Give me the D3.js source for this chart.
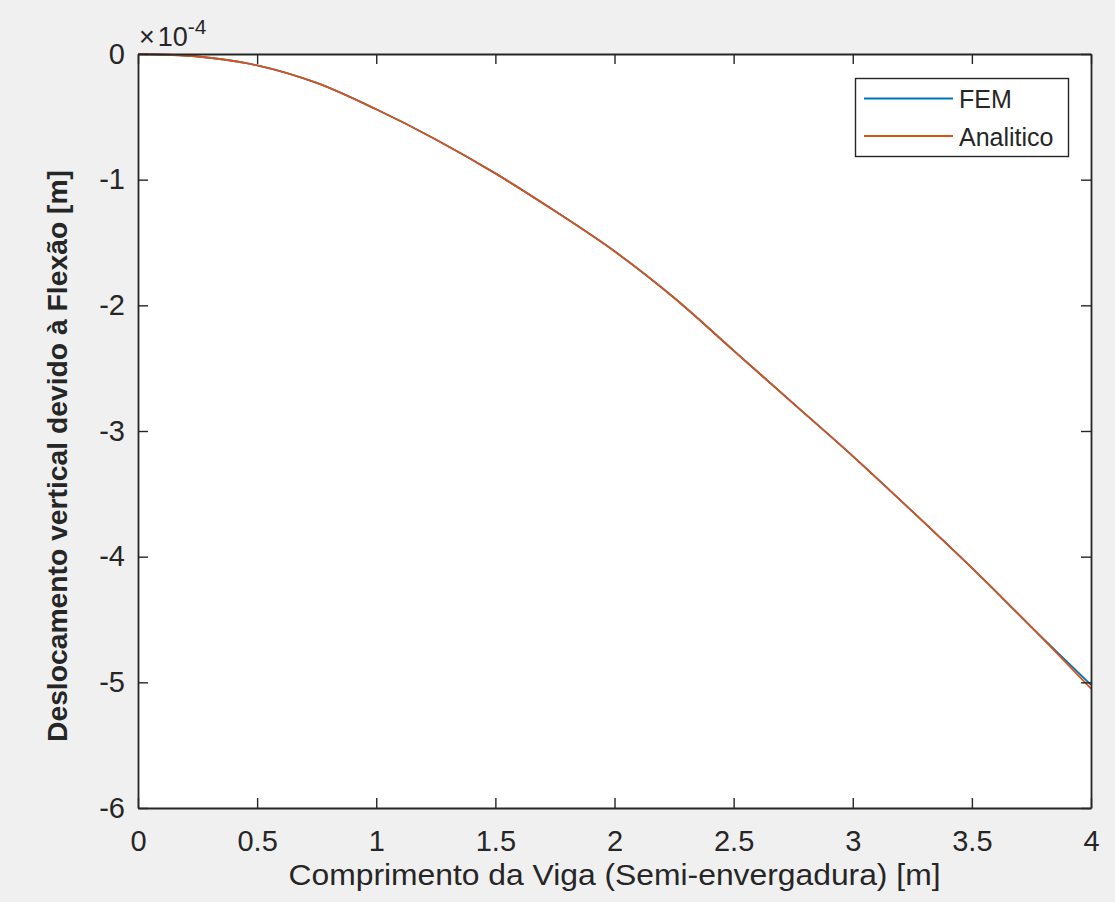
<!DOCTYPE html>
<html>
<head>
<meta charset="utf-8">
<script src="https://cdn.jsdelivr.net/npm/d3@7"></script>
<style>
  html, body { margin: 0; padding: 0; background: #f0f0f0; }
  svg { display: block; }
  text { font-family: "Liberation Sans", Arial, Helvetica, sans-serif; fill: #262626; }
</style>
</head>
<body>
<svg id="chart" width="1115" height="902"></svg>
<script>
// Beam span positions [m]
const positions = [0, 0.25, 0.5, 0.75, 1.0, 1.25, 1.5, 1.75, 2.0, 2.25, 2.5, 2.75, 3.0, 3.25, 3.5, 3.75, 4.0];
// Vertical bending displacement, in units of 1e-4 m
const femValues = [0, -0.02, -0.09, -0.23, -0.44, -0.68, -0.95, -1.25, -1.57, -1.94, -2.36, -2.78, -3.20, -3.64, -4.09, -4.56, -5.02];
const analyticValues = [0, -0.02, -0.09, -0.23, -0.44, -0.68, -0.95, -1.25, -1.57, -1.94, -2.36, -2.78, -3.20, -3.64, -4.09, -4.56, -5.05];
const seriesNames = ["FEM", "Analitico"];
const seriesColors = ["#0072BD", "#D95319"];
const xTicks = [0, 0.5, 1, 1.5, 2, 2.5, 3, 3.5, 4];
const xTickLabels = ["0", "0.5", "1", "1.5", "2", "2.5", "3", "3.5", "4"];
const yTicks = [0, -1, -2, -3, -4, -5, -6];
const yTickLabels = ["0", "-1", "-2", "-3", "-4", "-5", "-6"];

const svg = d3.select("#chart");
const plotLeft = 138, plotRight = 1091, plotTop = 54, plotBottom = 808;

const x = d3.scaleLinear().domain([0, 4]).range([plotLeft, plotRight]);
const y = d3.scaleLinear().domain([-6, 0]).range([plotBottom, plotTop]);

// plot area
svg.append("rect")
  .attr("x", plotLeft).attr("y", plotTop)
  .attr("width", plotRight - plotLeft).attr("height", plotBottom - plotTop)
  .attr("fill", "#ffffff");

const line = d3.line().curve(d3.curveCatmullRom)
  .x(d => x(d[0])).y(d => y(d[1]));

const series = [femValues, analyticValues];
series.forEach((vals, i) => {
  svg.append("path")
    .datum(positions.map((p, k) => [p, vals[k]]))
    .attr("d", line)
    .attr("fill", "none")
    .attr("stroke", seriesColors[i])
    .attr("stroke-width", 1.8);
});

// axes: closed box with inward ticks on all sides
const tickLen = 10;
const axisColor = "#262626";
const fmtX = (d, i) => xTickLabels[i];
const fmtY = (d, i) => yTickLabels[i];

const styleAxis = g => {
  g.select(".domain").attr("stroke", axisColor).attr("stroke-width", 1.8);
  g.selectAll(".tick line").attr("stroke", axisColor).attr("stroke-width", 1.4);
  g.selectAll(".tick text").attr("fill", "#262626").style("font-size", "29px")
    .style("font-family", "'Liberation Sans', Arial, sans-serif");
};

svg.append("g").attr("transform", `translate(0,${plotBottom})`)
  .call(d3.axisBottom(x).tickValues(xTicks).tickFormat(fmtX).tickSizeInner(-tickLen).tickSizeOuter(0).tickPadding(22))
  .call(styleAxis);
svg.append("g").attr("transform", `translate(0,${plotTop})`)
  .call(d3.axisTop(x).tickValues(xTicks).tickFormat("").tickSizeInner(-tickLen).tickSizeOuter(0))
  .call(styleAxis);
svg.append("g").attr("transform", `translate(${plotLeft},0)`)
  .call(d3.axisLeft(y).tickValues(yTicks).tickFormat(fmtY).tickSizeInner(-tickLen).tickSizeOuter(0).tickPadding(13))
  .call(styleAxis);
svg.append("g").attr("transform", `translate(${plotRight},0)`)
  .call(d3.axisRight(y).tickValues(yTicks).tickFormat("").tickSizeInner(-tickLen).tickSizeOuter(0))
  .call(styleAxis);

// exponent multiplier
const mult = svg.append("text").attr("x", 139).attr("y", 46).style("font-size", "27px");
mult.append("tspan").text("\u00d7");
mult.append("tspan").attr("dx", 3).text("10");
mult.append("tspan").attr("dy", -12).style("font-size", "21px").text("-4");

// axis titles
svg.append("text")
  .attr("x", (plotLeft + plotRight) / 2).attr("y", 885)
  .attr("text-anchor", "middle")
  .attr("textLength", 652).attr("lengthAdjust", "spacingAndGlyphs")
  .style("font-size", "29px")
  .text("Comprimento da Viga (Semi-envergadura) [m]");

svg.append("text")
  .attr("transform", `translate(67,456) rotate(-90)`)
  .attr("text-anchor", "middle")
  .attr("textLength", 572).attr("lengthAdjust", "spacingAndGlyphs")
  .style("font-size", "28px").style("font-weight", "bold")
  .text("Deslocamento vertical devido \u00e0 Flex\u00e3o [m]");

// legend
const lg = svg.append("g");
lg.append("rect")
  .attr("x", 855.5).attr("y", 78.5).attr("width", 213).attr("height", 78)
  .attr("fill", "#ffffff").attr("stroke", axisColor).attr("stroke-width", 1.4);
seriesNames.forEach((name, i) => {
  const ly = 98.5 + i * 37.5;
  lg.append("line").attr("x1", 864).attr("x2", 953).attr("y1", ly).attr("y2", ly)
    .attr("stroke", seriesColors[i]).attr("stroke-width", 1.8);
  lg.append("text").attr("x", 959).attr("y", ly + 9.5)
    .style("font-size", "25px").text(name);
});
</script>
</body>
</html>
